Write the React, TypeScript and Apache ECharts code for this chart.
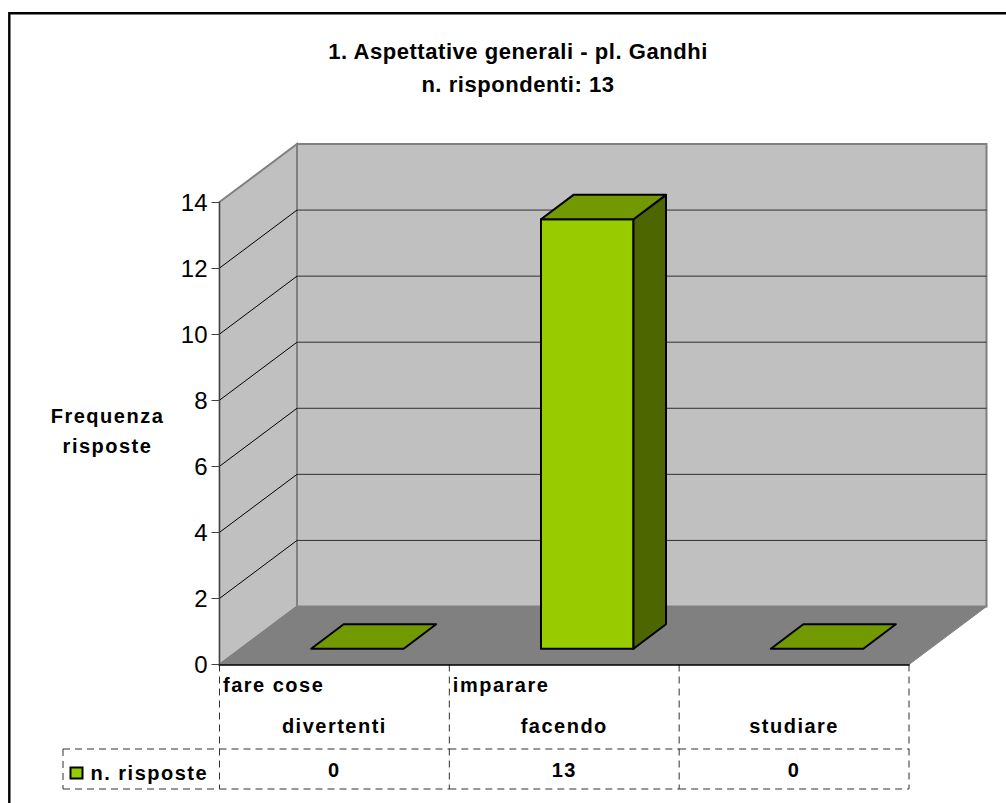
import React, { useEffect, useRef } from "react";
import * as echarts from "echarts";

const titleLines = ["1. Aspettative generali - pl. Gandhi", "n. rispondenti: 13"];
const yAxisName = "Frequenza\nrisposte";
const seriesName = "n. risposte";
const categoryFirstLines = ["fare cose", "imparare", ""];
const categorySecondLines = ["divertenti", "facendo", "studiare"];
const categories = ["fare cose divertenti", "imparare facendo", "studiare"];
const responses = [0, 13, 0];
const yTicks = [0, 2, 4, 6, 8, 10, 12, 14];

const FONT = '"Liberation Sans", Arial, sans-serif';
const WALL = "#c0c0c0";
const FLOOR = "#808080";
const FRONT = "#99cc00";
const TOP = "#739900";
const SIDE = "#4d6600";
const DX = 77.5;
const DY = 58;
const BAR_W = 92.5;
const BAR_SHIFT_X = 23;
const BAR_SHIFT_Y = 15.8;
const BAR_DX = 32.5;
const BAR_DY = 24.4;
const TABLE_ROW_TOP = 749;
const TABLE_BOTTOM = 789;
const TABLE_LEFT = 63;

const dashed = (x1: number, y1: number, x2: number, y2: number) => ({
  type: "line",
  shape: { x1, y1, x2, y2 },
  style: { stroke: "#303030", lineWidth: 1, lineDash: [7, 5], fill: "none" },
});

export default function App() {
  const ref = useRef<HTMLDivElement>(null);
  useEffect(() => {
    const chart = echarts.init(ref.current!, null, { renderer: "svg" });
    chart.setOption({
      animation: false,
      backgroundColor: "#ffffff",
      title: {
        text: titleLines.join("\n"),
        left: 513,
        top: 29.5,
        textAlign: "center",
        textStyle: { fontFamily: FONT, fontSize: 22, fontWeight: "bold", color: "#000", lineHeight: 33 },
      },
      legend: {
        show: true,
        left: 69.5,
        top: 763,
        icon: "rect",
        itemWidth: 12,
        itemHeight: 11,
        itemGap: 0,
        data: [seriesName],
        itemStyle: { color: FRONT, borderColor: "#000", borderWidth: 2 },
        textStyle: { fontFamily: FONT, fontSize: 20, fontWeight: "bold", color: "#000", padding: [0, 0, 2, 3] },
        padding: 0,
        selectedMode: false,
      },
      graphic: [
        {
          type: "polyline",
          silent: true,
          z: 10,
          shape: { points: [[9.3, 803], [9.3, 13.2], [1006, 13.2]] },
          style: { stroke: "#000", lineWidth: 2.4, fill: "none" },
        },
        {
          type: "text",
          silent: true,
          z: 10,
          x: 107.5,
          y: 431,
          style: {
            text: yAxisName,
            align: "center",
            verticalAlign: "middle",
            lineHeight: 30,
            fontFamily: FONT,
            fontSize: 20,
            fontWeight: "bold",
            fill: "#000",
          },
        },
      ],
      grid: { left: 219.5, top: 202, width: 689.5, height: 462.5 },
      xAxis: {
        type: "category",
        data: categories,
        z: 6,
        axisLine: { show: true, lineStyle: { color: "#000", width: 1.5 } },
        axisTick: { show: false },
        axisLabel: { show: false },
        splitLine: { show: false },
      },
      yAxis: {
        type: "value",
        min: 0,
        max: 14,
        interval: 2,
        z: 6,
        axisLine: { show: true, lineStyle: { color: "#404040", width: 1 } },
        axisTick: { show: true, length: 8, lineStyle: { color: "#404040", width: 1 } },
        axisLabel: { fontFamily: FONT, fontSize: 24, color: "#000", margin: 12 },
        splitLine: { show: false },
      },
      series: [
        {
          name: "pareti",
          type: "custom",
          coordinateSystem: "cartesian2d",
          silent: true,
          z: 1,
          data: [0],
          encode: { y: 0 },
          renderItem: (params: any) => {
            const { x, y, width, height } = params.coordSys;
            const b = y + height;
            const r = x + width;
            const gray = { stroke: FLOOR, lineWidth: 2 };
            return {
              type: "group",
              children: [
                { type: "polygon", shape: { points: [[x + DX, y - DY], [r + DX, y - DY], [r + DX, b - DY], [x + DX, b - DY]] }, style: { fill: WALL, ...gray } },
                { type: "polygon", shape: { points: [[x, y], [x + DX, y - DY], [x + DX, b - DY], [x, b]] }, style: { fill: WALL, ...gray } },
                { type: "polygon", shape: { points: [[x, b], [x + DX, b - DY], [r + DX, b - DY], [r, b]] }, style: { fill: FLOOR, stroke: FLOOR, lineWidth: 1 } },
              ],
            };
          },
        },
        {
          name: "griglia",
          type: "custom",
          coordinateSystem: "cartesian2d",
          silent: true,
          z: 2,
          data: yTicks.slice(1, -1).map((t) => [0, t]),
          renderItem: (params: any, api: any) => {
            const { x, width } = params.coordSys;
            const yv = api.coord([0, api.value(1)])[1];
            const dark = { stroke: "#303030", lineWidth: 1, fill: "none" };
            return {
              type: "group",
              children: [
                { type: "line", shape: { x1: x, y1: yv, x2: x + DX, y2: yv - DY }, style: { ...dark, stroke: "#000" } },
                { type: "line", shape: { x1: x + DX, y1: yv - DY, x2: x + width + DX, y2: yv - DY }, style: dark },
              ],
            };
          },
        },
        {
          name: seriesName,
          type: "custom",
          coordinateSystem: "cartesian2d",
          z: 3,
          itemStyle: { color: FRONT },
          data: responses.map((v, i) => [i, v]),
          renderItem: (_params: any, api: any) => {
            const base = api.coord([api.value(0), 0]);
            const topP = api.coord([api.value(0), api.value(1)]);
            const l = base[0] + BAR_SHIFT_X - BAR_W / 2;
            const r = l + BAR_W;
            const b = base[1] - BAR_SHIFT_Y;
            const t = topP[1] - BAR_SHIFT_Y;
            const edge = { stroke: "#000", lineWidth: 2, lineJoin: "round" };
            const children: any[] = [];
            if (b - t > 0.5) {
              children.push({ type: "polygon", shape: { points: [[l, t], [r, t], [r, b], [l, b]] }, style: { fill: FRONT, ...edge } });
              children.push({ type: "polygon", shape: { points: [[r, t], [r + BAR_DX, t - BAR_DY], [r + BAR_DX, b - BAR_DY], [r, b]] }, style: { fill: SIDE, ...edge } });
            }
            children.push({ type: "polygon", shape: { points: [[l, t], [l + BAR_DX, t - BAR_DY], [r + BAR_DX, t - BAR_DY], [r, t]] }, style: { fill: TOP, ...edge } });
            return { type: "group", children };
          },
        },
        {
          name: "tabella",
          type: "custom",
          coordinateSystem: "cartesian2d",
          silent: true,
          z: 4,
          data: responses.map((v, i) => [i, v]),
          renderItem: (params: any, api: any) => {
            const i = api.value(0);
            const cs = params.coordSys;
            const cx = api.coord([i, 0])[0];
            const bw = cs.width / categories.length;
            const l = cx - bw / 2;
            const r = cx + bw / 2;
            const b = cs.y + cs.height;
            const bold = { fontFamily: FONT, fontSize: 20, fontWeight: "bold", fill: "#000" };
            const children: any[] = [
              dashed(l, b, l, TABLE_BOTTOM),
              dashed(l, TABLE_ROW_TOP, r, TABLE_ROW_TOP),
              dashed(l, TABLE_BOTTOM, r, TABLE_BOTTOM),
              { type: "text", x: cx, y: 769.7, style: { text: String(api.value(1)), align: "center", verticalAlign: "middle", ...bold } },
              { type: "text", x: cx, y: 726.3, style: { text: categorySecondLines[i], align: "center", verticalAlign: "middle", ...bold } },
            ];
            if (categoryFirstLines[i]) {
              children.push({ type: "text", x: l + 3.5, y: 684.7, style: { text: categoryFirstLines[i], align: "left", verticalAlign: "middle", ...bold } });
            }
            if (i === categories.length - 1) children.push(dashed(r, b, r, TABLE_BOTTOM));
            if (i === 0) {
              children.push(dashed(TABLE_LEFT, TABLE_ROW_TOP, l, TABLE_ROW_TOP));
              children.push(dashed(TABLE_LEFT, TABLE_BOTTOM, l, TABLE_BOTTOM));
              children.push(dashed(TABLE_LEFT, TABLE_ROW_TOP, TABLE_LEFT, TABLE_BOTTOM));
            }
            return { type: "group", children };
          },
        },
      ],
    });
    return () => chart.dispose();
  }, []);
  return (
    <>
      <style>{`
        #chart svg [style*="bold"][style*="20px"] { letter-spacing: 1.5px; }
        #chart svg [style*="bold"][style*="22px"] { letter-spacing: 0.55px; }
      `}</style>
      <div id="chart" ref={ref} style={{ position: "absolute", left: 0, top: 0, width: 1006, height: 803 }} />
    </>
  );
}
